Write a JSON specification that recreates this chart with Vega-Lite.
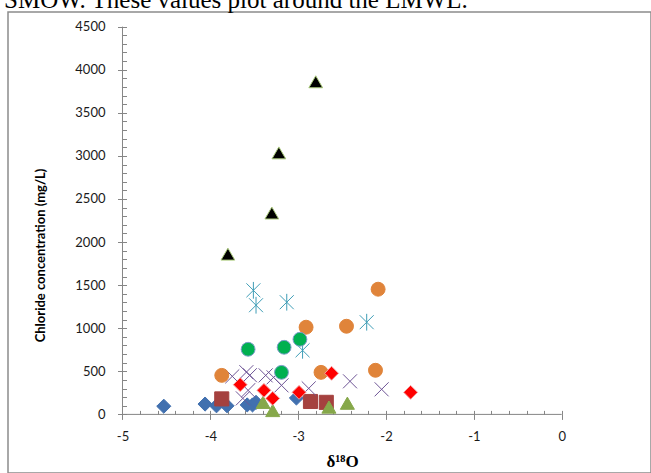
{
  "$schema": "https://vega.github.io/schema/vega-lite/v6.json",
  "width": 643,
  "height": 461,
  "autosize": {"type": "none"},
  "padding": {"left": 8, "top": 12, "right": 0, "bottom": 0},
  "background": "white",
  "title": {
    "text": "SMOW. These values plot around the LMWL.",
    "anchor": "start",
    "frame": "group",
    "font": "Liberation Serif",
    "fontSize": 25,
    "fontWeight": "normal",
    "color": "#000000",
    "baseline": "top",
    "offset": 0,
    "dx": -4,
    "dy": 1
  },
  "config": {
    "view": {"stroke": "#8c8c8c", "strokeWidth": 1.5},
    "axis": {
      "domain": false,
      "grid": false,
      "tickColor": "#868686",
      "tickWidth": 1,
      "labelFont": "Lato",
      "labelFontSize": 13,
      "labelColor": "#1a1a1a",
      "titleColor": "#000000"
    }
  },
  "resolve": {"axis": {"x": "independent", "y": "independent"}},
  "layer": [
    {
      "data": {"values": [{"k": 1}]},
      "mark": {"type": "rule", "color": "#868686", "strokeWidth": 1},
      "encoding": {
        "x": {
          "datum": -5,
          "type": "quantitative",
          "scale": {"domain": [-6.3035, 1.0166], "nice": false, "zero": false},
          "axis": {
            "orient": "bottom",
            "offset": -58.6,
            "values": [-5, -4.8, -4.6, -4.4, -4.2, -4, -3.8, -3.6, -3.4, -3.2, -3, -2.8, -2.6, -2.4, -2.2, -2, -1.8, -1.6, -1.4, -1.2, -1, -0.8, -0.6, -0.4, -0.2, 0],
            "tickSize": -4,
            "labels": false,
            "title": null
          }
        },
        "x2": {"datum": 0},
        "y": {
          "datum": 0,
          "type": "quantitative",
          "scale": {"domain": [-680, 4670], "nice": false, "zero": false},
          "axis": null
        }
      }
    },
    {
      "data": {"values": [{"k": 1}]},
      "mark": {"type": "rule", "color": "#868686", "strokeWidth": 1},
      "encoding": {
        "x": {
          "datum": -5,
          "type": "quantitative",
          "scale": {"domain": [-6.3035, 1.0166], "nice": false, "zero": false},
          "axis": null
        },
        "y": {
          "datum": 0,
          "type": "quantitative",
          "scale": {"domain": [-680, 4670], "nice": false, "zero": false},
          "axis": {
            "orient": "left",
            "offset": -114.5,
            "values": [0, 100, 200, 300, 400, 500, 600, 700, 800, 900, 1000, 1100, 1200, 1300, 1400, 1500, 1600, 1700, 1800, 1900, 2000, 2100, 2200, 2300, 2400, 2500, 2600, 2700, 2800, 2900, 3000, 3100, 3200, 3300, 3400, 3500, 3600, 3700, 3800, 3900, 4000, 4100, 4200, 4300, 4400, 4500],
            "tickSize": -4,
            "labels": false,
            "title": null
          }
        },
        "y2": {"datum": 4500}
      }
    },
    {
      "data": {
        "values": [
          {"series": "s1", "d18O": -4.53, "Cl": 95},
          {"series": "s1", "d18O": -4.06, "Cl": 120},
          {"series": "s1", "d18O": -3.93, "Cl": 100},
          {"series": "s1", "d18O": -3.81, "Cl": 100},
          {"series": "s1", "d18O": -3.58, "Cl": 110},
          {"series": "s1", "d18O": -3.52, "Cl": 110},
          {"series": "s1", "d18O": -3.48, "Cl": 140},
          {"series": "s1", "d18O": -3.02, "Cl": 190},
          {"series": "s2", "d18O": -3.87, "Cl": 180},
          {"series": "s2", "d18O": -2.86, "Cl": 150},
          {"series": "s2", "d18O": -2.68, "Cl": 140},
          {"series": "s3", "d18O": -3.4, "Cl": 140},
          {"series": "s3", "d18O": -3.29, "Cl": 45},
          {"series": "s3", "d18O": -2.65, "Cl": 85},
          {"series": "s3", "d18O": -2.44, "Cl": 130},
          {"series": "s4", "d18O": -3.75, "Cl": 442},
          {"series": "s4", "d18O": -3.59, "Cl": 490},
          {"series": "s4", "d18O": -3.55, "Cl": 455},
          {"series": "s4", "d18O": -3.37, "Cl": 453},
          {"series": "s4", "d18O": -3.28, "Cl": 430},
          {"series": "s4", "d18O": -3.19, "Cl": 337},
          {"series": "s4", "d18O": -3.57, "Cl": 279},
          {"series": "s4", "d18O": -3.63, "Cl": 186},
          {"series": "s4", "d18O": -2.88, "Cl": 302},
          {"series": "s4", "d18O": -2.41, "Cl": 384},
          {"series": "s4", "d18O": -2.05, "Cl": 291},
          {"series": "s5", "d18O": -3.51, "Cl": 1440},
          {"series": "s5", "d18O": -3.48, "Cl": 1267},
          {"series": "s5", "d18O": -3.13, "Cl": 1302},
          {"series": "s5", "d18O": -2.22, "Cl": 1070},
          {"series": "s5", "d18O": -2.95, "Cl": 744},
          {"series": "s6", "d18O": -2.09, "Cl": 1453},
          {"series": "s6", "d18O": -2.91, "Cl": 1012},
          {"series": "s6", "d18O": -2.45, "Cl": 1023},
          {"series": "s6", "d18O": -2.74, "Cl": 488},
          {"series": "s6", "d18O": -2.12, "Cl": 512},
          {"series": "s6", "d18O": -3.87, "Cl": 453},
          {"series": "s7", "d18O": -3.66, "Cl": 345},
          {"series": "s7", "d18O": -3.39, "Cl": 279},
          {"series": "s7", "d18O": -3.29, "Cl": 186},
          {"series": "s7", "d18O": -2.99, "Cl": 256},
          {"series": "s7", "d18O": -2.62, "Cl": 477},
          {"series": "s7", "d18O": -1.72, "Cl": 256},
          {"series": "s8", "d18O": -3.57, "Cl": 756},
          {"series": "s8", "d18O": -3.16, "Cl": 779},
          {"series": "s8", "d18O": -2.98, "Cl": 872},
          {"series": "s8", "d18O": -3.19, "Cl": 488},
          {"series": "s9", "d18O": -3.8, "Cl": 1860},
          {"series": "s9", "d18O": -3.3, "Cl": 2337},
          {"series": "s9", "d18O": -3.22, "Cl": 3035},
          {"series": "s9", "d18O": -2.8, "Cl": 3860}
        ]
      },
      "mark": {"type": "point", "filled": true, "opacity": 1},
      "encoding": {
        "x": {
          "field": "d18O",
          "type": "quantitative",
          "scale": {"domain": [-6.3035, 1.0166], "nice": false, "zero": false},
          "axis": {
            "orient": "bottom",
            "offset": -58.6,
            "values": [-5, -4, -3, -2, -1, 0],
            "tickSize": 5,
            "labelPadding": 11,
            "labelExpr": "datum.value + ''",
            "title": "δ¹⁸O",
            "titleFont": "Liberation Serif",
            "titleFontSize": 17,
            "titleFontWeight": "bold",
            "titlePadding": 10,
            "titleX": 334
          }
        },
        "y": {
          "field": "Cl",
          "type": "quantitative",
          "scale": {"domain": [-680, 4670], "nice": false, "zero": false},
          "axis": {
            "orient": "left",
            "offset": -114.5,
            "values": [0, 500, 1000, 1500, 2000, 2500, 3000, 3500, 4000, 4500],
            "format": "d",
            "tickSize": 5,
            "labelPadding": 12.5,
            "title": "Chloride concentration (mg/L)",
            "titleFont": "Lato",
            "titleFontSize": 13,
            "titleFontWeight": "bold",
            "titlePadding": 27,
            "titleY": 243
          }
        },
        "shape": {
          "field": "series",
          "type": "nominal",
          "scale": {
            "domain": ["s1", "s2", "s3", "s4", "s5", "s6", "s7", "s8", "s9"],
            "range": ["diamond", "square", "triangle-up", "M-1,-1L1,1M-1,1L1,-1", "M-1,-1L1,1M-1,1L1,-1M0,-1.2L0,1.2", "circle", "diamond", "circle", "triangle-up"]
          },
          "legend": null
        },
        "fill": {
          "field": "series",
          "type": "nominal",
          "scale": {
            "domain": ["s1", "s2", "s3", "s4", "s5", "s6", "s7", "s8", "s9"],
            "range": ["#4170AF", "#A5413F", "#86A84A", "#7459A0", "#3E9DB6", "#E0843A", "#FF0000", "#00B050", "#000000"]
          },
          "legend": null
        },
        "stroke": {
          "field": "series",
          "type": "nominal",
          "scale": {
            "domain": ["s1", "s2", "s3", "s4", "s5", "s6", "s7", "s8", "s9"],
            "range": ["#4170AF", "#A5413F", "#86A84A", "#6E5596", "#3E9DB6", "#E0843A", "#F4A0A0", "#7E9CCB", "#A9C97A"]
          },
          "legend": null
        },
        "strokeWidth": {
          "field": "series",
          "type": "ordinal",
          "scale": {
            "domain": ["s1", "s2", "s3", "s4", "s5", "s6", "s7", "s8", "s9"],
            "range": [1, 1, 1, 2, 2, 1, 1.5, 1.5, 1.5]
          },
          "legend": null
        },
        "size": {
          "field": "series",
          "type": "ordinal",
          "scale": {
            "domain": ["s1", "s2", "s3", "s4", "s5", "s6", "s7", "s8", "s9"],
            "range": [200, 190, 200, 160, 140, 220, 110, 150, 140]
          },
          "legend": null
        }
      }
    }
  ]
}
